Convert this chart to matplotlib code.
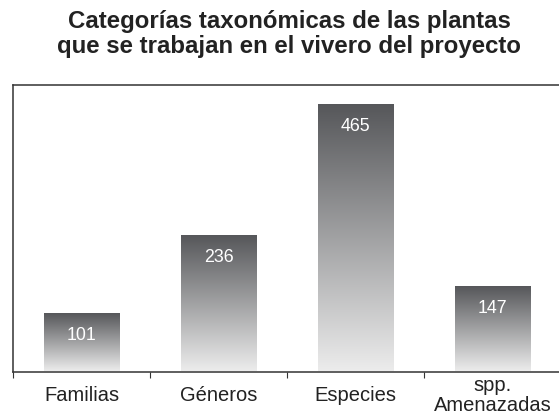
import matplotlib.pyplot as plt
import numpy as np
from matplotlib.colors import LinearSegmentedColormap

categorias = ["Familias", "Géneros", "Especies", "spp.\nAmenazadas"]
valores = [101, 236, 465, 147]
titulo = "Categorías taxonómicas de las plantas\nque se trabajan en el vivero del proyecto"

plt.rcParams['font.family'] = ['Liberation Sans', 'DejaVu Sans']

fig = plt.figure(figsize=(5.59, 4.15), dpi=100)
ax = fig.add_axes([0.0233, 0.1036, 0.9803, 0.6916])

x = np.arange(len(categorias))
bars = ax.bar(x, valores, width=0.55, color="none", edgecolor="none")

# degradado vertical oscuro arriba, claro abajo
cmap = LinearSegmentedColormap.from_list("gris", ["#ececec", "#56575a"])
grad = np.linspace(0, 1, 256).reshape(-1, 1)
for b, v in zip(bars, valores):
    x0 = b.get_x()
    ax.imshow(grad, cmap=cmap, origin="lower", aspect="auto",
              extent=[x0, x0 + b.get_width(), 0, v], zorder=2)
    ax.annotate(str(v), (b.get_x() + b.get_width() / 2, v), xytext=(0, -16),
                textcoords="offset points", ha="center", va="center",
                color="white", fontsize=12.8, zorder=3)

ax.set_xlim(-0.5, 3.5)
ax.set_ylim(-2, 498)

for s in ["left", "top", "bottom"]:
    ax.spines[s].set_color("#333333")
    ax.spines[s].set_linewidth(1.1)
ax.spines["right"].set_visible(False)

ax.set_yticks([])
ax.set_xticks(np.arange(-0.5, 4, 1.0))
ax.set_xticklabels([])
ax.tick_params(axis="x", which="major", length=4, color="#333333", direction="out")
ax.set_xticks(x, minor=True)
ax.set_xticklabels(categorias, minor=True, fontsize=14.5, color="#222222", linespacing=1.05)
ax.tick_params(axis="x", which="minor", length=0, pad=17)
for lab in ax.get_xticklabels(minor=True):
    lab.set_va("center")

fig.text(0.517, 0.918, titulo, ha="center", va="center", fontsize=17.3,
         fontweight="bold", color="#222222", linespacing=1.15)

fig.savefig("out.png", dpi=100)
